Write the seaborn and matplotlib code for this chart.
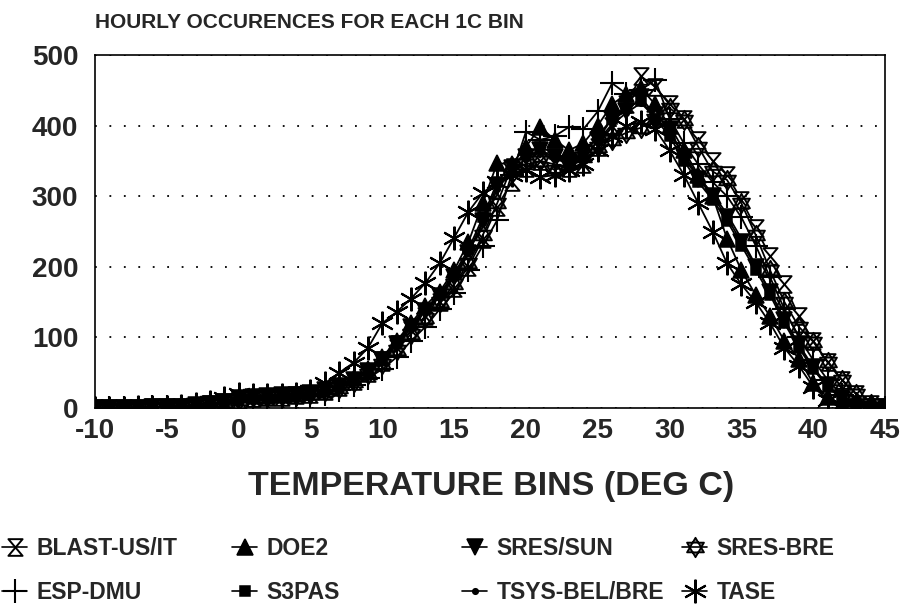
import numpy as np
import matplotlib
matplotlib.use("Agg")
import matplotlib.pyplot as plt
from matplotlib.path import Path
from matplotlib.lines import Line2D
import seaborn as sns

temps = list(range(-10, 46))

blast_us_it = [0, 0, 0, 0, 1, 1, 2, 3, 5, 8,
               12, 14, 15, 16, 18, 20, 24, 30, 38, 50,
               65, 85, 110, 130, 150, 170, 200, 240, 285, 320,
               340, 350, 345, 340, 345, 370, 400, 430, 470, 455,
               430, 410, 380, 350, 330, 295, 255, 215, 175, 130,
               95, 65, 40, 20, 6, 2]
doe2 = [0, 0, 0, 1, 1, 2, 3, 4, 6, 10,
        15, 17, 17, 18, 20, 22, 26, 32, 42, 55,
        72, 95, 120, 145, 165, 195, 235, 290, 347, 345,
        370, 398, 380, 365, 375, 400, 430, 445, 453, 430,
        400, 365, 330, 300, 240, 195, 160, 130, 95, 70,
        35, 15, 5, 2, 1, 0]
sres_sun = [0, 0, 0, 0, 1, 1, 2, 4, 6, 9,
            14, 16, 17, 18, 19, 21, 25, 31, 40, 52,
            68, 90, 115, 138, 158, 185, 220, 265, 315, 340,
            355, 365, 355, 345, 350, 380, 410, 420, 440, 415,
            395, 355, 325, 300, 270, 235, 200, 165, 125, 90,
            58, 32, 14, 5, 2, 1]
sres_bre = [0, 0, 0, 0, 0, 1, 2, 3, 5, 8,
            12, 15, 16, 17, 18, 20, 24, 29, 37, 48,
            62, 82, 105, 128, 150, 175, 205, 245, 290, 341,
            345, 350, 337, 345, 355, 370, 380, 390, 397, 410,
            425, 408, 370, 335, 323, 290, 245, 195, 150, 115,
            94, 65, 40, 20, 6, 2]
esp_dmu = [0, 0, 0, 0, 1, 1, 2, 3, 5, 7,
           10, 12, 13, 14, 15, 17, 20, 25, 32, 42,
           55, 72, 95, 115, 140, 163, 195, 230, 266, 330,
           391, 380, 385, 398, 395, 420, 460, 445, 450, 465,
           410, 375, 345, 320, 300, 270, 230, 185, 140, 100,
           68, 40, 18, 6, 2, 0]
s3pas = [0, 0, 0, 0, 1, 1, 2, 4, 6, 9,
         15, 17, 18, 19, 20, 22, 27, 33, 42, 55,
         72, 95, 118, 140, 162, 190, 225, 270, 320, 345,
         360, 370, 360, 350, 358, 385, 410, 425, 435, 410,
         385, 350, 320, 295, 265, 230, 195, 160, 120, 85,
         55, 30, 13, 5, 2, 1]
tsys_bel_bre = [0, 0, 0, 0, 1, 2, 3, 4, 6, 9,
                14, 16, 17, 19, 21, 23, 27, 33, 41, 53,
                70, 92, 117, 140, 160, 188, 220, 262, 310, 338,
                352, 362, 352, 348, 352, 378, 402, 418, 432, 412,
                390, 358, 328, 303, 275, 240, 202, 165, 125, 88,
                56, 30, 13, 5, 2, 1]
tase = [0, 0, 0, 1, 1, 2, 3, 5, 8, 14,
        20, 18, 18, 19, 20, 24, 35, 50, 64, 85,
        120, 136, 155, 177, 205, 241, 278, 305, 320, 330,
        337, 327, 330, 337, 345, 365, 385, 400, 405, 395,
        365, 330, 290, 250, 205, 175, 150, 120, 85, 60,
        30, 12, 4, 1, 0, 0]

sns.set_style("white")
plt.rcParams["font.family"] = ["Liberation Sans", "DejaVu Sans"]
plt.rcParams["font.weight"] = "bold"
plt.rcParams["axes.unicode_minus"] = False

# custom marker shapes
hourglass = Path([(-0.85, 1), (0.85, 1), (-0.85, -1), (0.85, -1), (-0.85, 1)],
                 [Path.MOVETO, Path.LINETO, Path.LINETO, Path.LINETO, Path.CLOSEPOLY])
up = [(0, 1), (-0.87, -0.5), (0.87, -0.5), (0, 1)]
dn = [(0, -1), (-0.87, 0.5), (0.87, 0.5), (0, -1)]
codes = [Path.MOVETO, Path.LINETO, Path.LINETO, Path.CLOSEPOLY]
hexagram = Path(up + dn, codes + codes)

series = [
    ("BLAST-US/IT", blast_us_it, dict(marker=hourglass, markersize=12, mfc="white", mew=1.4)),
    ("DOE2", doe2, dict(marker="^", markersize=12, mfc="black")),
    ("SRES/SUN", sres_sun, dict(marker="v", markersize=12, mfc="black")),
    ("SRES-BRE", sres_bre, dict(marker=hexagram, markersize=14, mfc="#7a7a7a", mew=1.3)),
    ("ESP-DMU", esp_dmu, dict(marker="+", markersize=17, mew=1.5)),
    ("S3PAS", s3pas, dict(marker="s", markersize=7, mfc="black")),
    ("TSYS-BEL/BRE", tsys_bel_bre, dict(marker="o", markersize=4, mfc="black")),
    ("TASE", tase, dict(marker=(6, 2, 0), markersize=17, mew=1.5)),
]

fig = plt.figure(figsize=(9.04, 6.04), dpi=100)
ax = fig.add_axes([95 / 904, 1 - 408 / 604, 790 / 904, 353 / 604])

for name, vals, st in series:
    st = dict(st)
    st.setdefault("mew", 1.1)
    sns.lineplot(x=temps, y=vals, ax=ax, color="black", linewidth=1.3,
                 markeredgecolor="black", legend=False, **st)

ax.set_xlim(-10, 45)
ax.set_ylim(0, 500)
ax.set_xticks(range(-10, 46, 5))
ax.set_yticks(range(0, 501, 100))
ax.yaxis.grid(True, linestyle=(0, (1, 7)), color="black", linewidth=1.3)
ax.xaxis.grid(False)
ax.set_axisbelow(True)
for s in ax.spines.values():
    s.set_color("black")
    s.set_linewidth(1.2)
ax.tick_params(axis="y", direction="in", length=11, width=1.3, labelsize=20, pad=12)
ax.tick_params(axis="x", direction="in", length=6, width=1.3, labelsize=20, pad=7)
for lab in ax.get_xticklabels() + ax.get_yticklabels():
    lab.set_fontweight("bold")
ax.set_xlabel("")
ax.set_ylabel("")

fig.text(95 / 904, 1 - 22 / 604, "HOURLY OCCURENCES FOR EACH 1C BIN",
         fontsize=15, fontweight="bold", va="center", ha="left")
fig.text(491 / 904, 1 - 487 / 604, "TEMPERATURE BINS (DEG C)",
         fontsize=24.5, fontweight="bold", va="center", ha="center")

# legend: four columns placed like the original
handles = {}
for name, vals, st in series:
    st = dict(st)
    st.setdefault("mew", 1.1)
    handles[name] = Line2D([], [], color="black", linewidth=1.2,
                           markeredgecolor="black", **st)
columns = [("BLAST-US/IT", "ESP-DMU"), ("DOE2", "S3PAS"),
           ("SRES/SUN", "TSYS-BEL/BRE"), ("SRES-BRE", "TASE")]
col_x = [2, 232, 462, 682]
for cx, names in zip(col_x, columns):
    fig.legend([handles[n] for n in names], list(names), loc="upper left",
               bbox_to_anchor=(cx / 904, 1 - 537 / 604), frameon=False,
               borderpad=0, borderaxespad=0, handlelength=1.1, handletextpad=0.4,
               labelspacing=0.9, prop=dict(size=16.5, weight="bold"))

fig.savefig("out.png", dpi=100)
